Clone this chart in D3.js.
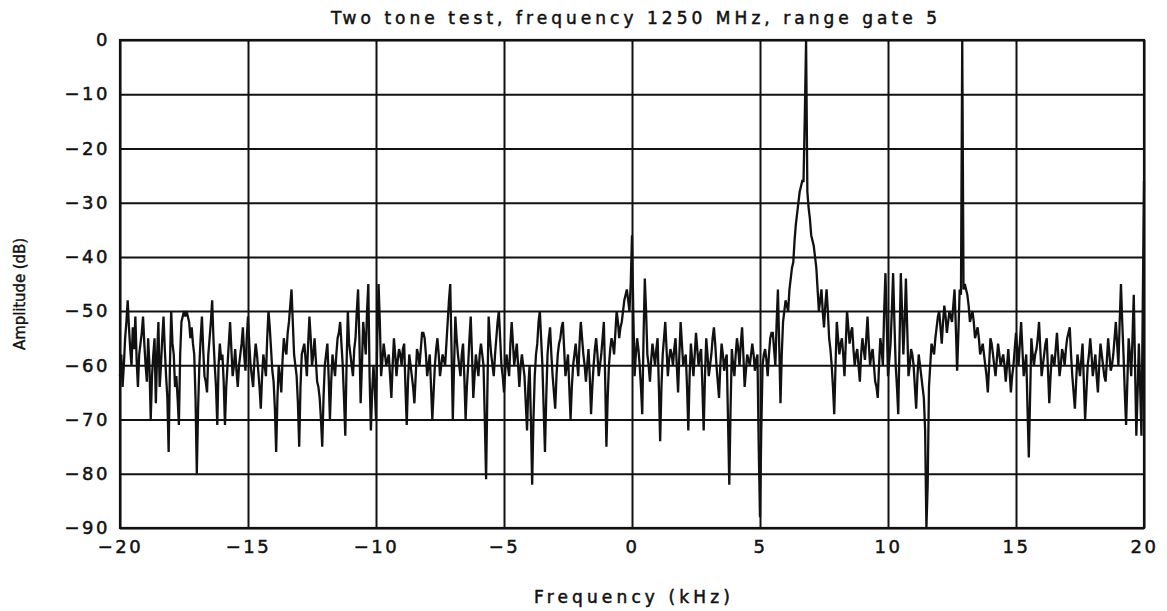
<!DOCTYPE html>
<html>
<head>
<meta charset="utf-8">
<script src="https://cdn.jsdelivr.net/npm/d3@7"></script>
<style>
  html, body { margin: 0; padding: 0; background: #fff; }
  svg { display: block; }
  text { font-family: "DejaVu Sans", sans-serif; fill: #111; }
</style>
</head>
<body>
<svg id="chart" width="1167" height="611"></svg>
<script>
// ---- data ----
const title = "Two tone test, frequency 1250 MHz, range gate 5";
const xLabel = "Frequency (kHz)";
const yLabel = "Amplitude (dB)";
const xTicks = [-20, -15, -10, -5, 0, 5, 10, 15, 20];
const yTicks = [0, -10, -20, -30, -40, -50, -60, -70, -80, -90];
const freqStart = -20;
const freqStep = 0.1;
// amplitude (dB) at -20.0, -19.9, ... , +20.0 kHz
const amplitude = [
  -62,-64,-55,-48,-57,-53,-51,-64,-56,-51,   // -20.0 .. -19.1
  -60,-55,-70,-58,-67,-52,-60,-51,-62,-76,   // -19.0
  -50,-58,-62,-71,-52,-50,-50,-52,-53,-58,   // -18.0
  -80,-60,-51,-62,-65,-55,-48,-60,-71,-56,   // -17.0
  -58,-71,-60,-52,-62,-57,-64,-58,-53,-61,   // -16.0
  -51,-60,-64,-56,-61,-68,-58,-62,-50,-57,   // -15.0
  -63,-76,-60,-65,-55,-58,-52,-46,-58,-62,   // -14.0
  -75,-58,-56,-62,-51,-60,-55,-63,-66,-75,   // -13.0
  -60,-56,-70,-58,-62,-55,-52,-60,-73,-50,   // -12.0
  -58,-62,-55,-46,-67,-52,-58,-45,-72,-60,   // -11.0
  -70,-45,-62,-56,-60,-58,-66,-55,-62,-57,   // -10.0
  -60,-56,-71,-58,-62,-67,-57,-60,-54,-55,   // -9.0
  -62,-58,-70,-60,-55,-62,-58,-60,-52,-45,   // -8.0
  -70,-51,-58,-62,-56,-70,-60,-51,-66,-58,   // -7.0
  -62,-56,-60,-81,-51,-58,-62,-55,-50,-60,   // -6.0
  -65,-58,-62,-52,-60,-56,-64,-58,-62,-72,   // -5.0
  -60,-82,-62,-56,-50,-60,-76,-58,-53,-62,   // -4.0
  -68,-58,-55,-52,-62,-58,-70,-60,-56,-62,   // -3.0
  -52,-58,-63,-57,-69,-60,-55,-62,-58,-52,   // -2.0
  -75,-60,-55,-58,-50,-55,-52,-48,-46,-50,   // -1.0
  -36,-62,-55,-60,-69,-44,-58,-63,-56,-60,   //  0.0
  -55,-74,-58,-52,-62,-57,-60,-55,-65,-52,   //  1.0
  -60,-58,-72,-56,-62,-54,-60,-57,-72,-55,   //  2.0
  -62,-58,-53,-60,-66,-56,-61,-58,-82,-57,   //  3.0
  -62,-55,-60,-53,-64,-58,-60,-56,-61,-58,   //  4.0
  -88,-60,-57,-62,-55,-54,-60,-46,-67,-52,   //  5.0
  -48,-50,-44,-41,-34,-30,-27,-26,  0,-31,   //  6.0
  -36,-38,-42,-50,-46,-53,-46,-55,-60,-69,   //  7.0
  -52,-58,-55,-62,-50,-56,-53,-60,-57,-63,   //  8.0
  -55,-59,-51,-60,-57,-63,-66,-55,-60,-43,   //  9.0
  -62,-56,-43,-60,-69,-43,-58,-44,-62,-57,   // 10.0
  -60,-68,-58,-62,-66,-90,-64,-56,-58,-53,   // 11.0
  -50,-56,-49,-54,-50,-52,-46,-61,-46,  0,   // 12.0
  -45,-47,-52,-50,-55,-53,-58,-56,-60,-65,   // 13.0
  -55,-58,-62,-56,-60,-58,-63,-57,-65,-60,   // 14.0
  -54,-60,-52,-62,-58,-77,-55,-60,-57,-52,   // 15.0
  -62,-58,-55,-67,-58,-60,-54,-62,-57,-60,   // 16.0
  -55,-53,-62,-68,-58,-62,-56,-70,-60,-55,   // 17.0
  -62,-58,-65,-56,-60,-63,-55,-61,-58,-52,   // 18.0
  -60,-45,-58,-71,-55,-62,-47,-73,-56,-73,   // 19.0
  -26                                        // 20.0
];
// amplitude (dB) at the in-between bins -19.95, -19.85, ... , +19.95 kHz
const amplitudeMid = [
  -58,-60,-52,-53,-60,-57,-59,-58,-54,-56,   // -19.95 ..
  -63,-60,-62,-55,-58,-64,-55,-57,-66,-60,   // -18.95
  -56,-64,-66,-58,-51,-51,-51,-55,-56,-66,   // -17.95
  -68,-55,-57,-63,-58,-52,-55,-64,-60,-59,   // -16.95
  -63,-64,-56,-57,-60,-61,-60,-56,-58,-55,   // -15.95
  -56,-62,-59,-58,-64,-62,-60,-55,-53,-61,   // -14.95
  -68,-66,-62,-59,-57,-54,-49,-52,-60,-67,   // -13.95
  -64,-57,-59,-56,-55,-58,-59,-64,-70,-66,   // -12.95
  -58,-62,-63,-60,-58,-54,-56,-66,-60,-56,   // -11.95
  -60,-57,-50,-55,-60,-55,-50,-62,-65,-64,   // -10.95
  -55,-52,-59,-58,-59,-62,-60,-58,-59,-58,   // -9.95
  -57,-64,-63,-60,-64,-62,-58,-57,-54,-58,   // -8.95
  -60,-64,-65,-57,-58,-60,-59,-56,-48,-57,   // -7.95
  -60,-55,-60,-58,-62,-64,-55,-58,-62,-60,   // -6.95
  -58,-58,-70,-65,-55,-60,-58,-52,-55,-62,   // -5.95
  -61,-60,-56,-56,-58,-60,-60,-60,-67,-64,   // -4.95
  -70,-70,-58,-52,-55,-68,-66,-55,-58,-65,   // -3.95
  -62,-56,-53,-57,-60,-64,-64,-58,-59,-56,   // -2.95
  -55,-60,-60,-62,-64,-57,-58,-60,-55,-62,   // -1.95
  -66,-57,-56,-54,-52,-53,-50,-47,-48,-45,   // -0.95
  -50,-58,-57,-64,-55,-50,-60,-59,-58,-57,   //  0.05
  -64,-64,-55,-57,-59,-58,-57,-60,-58,-56,   //  1.05
  -59,-64,-62,-59,-58,-57,-58,-64,-62,-58,   //  2.05
  -60,-55,-56,-63,-60,-58,-59,-70,-68,-60,   //  3.05
  -58,-57,-56,-58,-61,-59,-58,-58,-59,-75,   //  4.05
  -72,-58,-59,-58,-54,-57,-52,-56,-58,-50,   //  5.05
  -49,-46,-42,-37,-32,-28,-26,-14,-28,-33,   //  6.05
  -37,-40,-46,-48,-50,-49,-50,-57,-64,-60,   //  7.05
  -55,-56,-58,-56,-53,-54,-57,-58,-60,-58,   //  8.05
  -57,-55,-56,-58,-60,-64,-60,-57,-50,-52,   //  9.05
  -59,-50,-52,-64,-56,-50,-52,-53,-60,-58,   // 10.05
  -64,-62,-60,-64,-72,-82,-60,-57,-55,-51,   // 11.05
  -53,-52,-51,-52,-51,-49,-53,-54,-47,-46,   // 12.05
  -46,-49,-51,-52,-54,-55,-57,-58,-62,-60,   // 13.05
  -56,-60,-59,-58,-59,-60,-60,-61,-62,-57,   // 14.05
  -57,-56,-57,-60,-68,-66,-58,-58,-55,-57,   // 15.05
  -60,-56,-61,-62,-59,-57,-58,-60,-58,-57,   // 16.05
  -54,-58,-65,-63,-60,-59,-63,-65,-58,-58,   // 17.05
  -60,-62,-60,-58,-62,-59,-58,-60,-55,-56,   // 18.05
  -52,-52,-65,-63,-58,-55,-60,-65,-64,-50    // 19.05
];

// ---- layout ----
const margin = { left: 120, right: 23, top: 40, bottom: 83 };
const W = 1167, H = 611;
const iw = W - margin.left - margin.right;
const ih = H - margin.top - margin.bottom;

const svg = d3.select("#chart");
const g = svg.append("g").attr("transform", `translate(${margin.left},${margin.top})`);

const x = d3.scaleLinear().domain([-20, 20]).range([0, iw]);
const y = d3.scaleLinear().domain([-90, 0]).range([ih, 0]);

// grid
const xGrid = d3.axisBottom(x).tickValues(xTicks).tickSize(-ih).tickFormat("");
const yGrid = d3.axisLeft(y).tickValues(yTicks).tickSize(-iw).tickFormat("");
g.append("g").attr("transform", `translate(0,${ih})`).call(xGrid)
  .call(s => s.select(".domain").remove())
  .call(s => s.selectAll("line").attr("stroke", "#111").attr("stroke-width", 2));
g.append("g").call(yGrid)
  .call(s => s.select(".domain").remove())
  .call(s => s.selectAll("line").attr("stroke", "#111").attr("stroke-width", 2));

// border
g.append("rect").attr("x", 0).attr("y", 0).attr("width", iw).attr("height", ih)
  .attr("fill", "none").attr("stroke", "#111").attr("stroke-width", 2.2);

// axes labels
const fmt = d => (d < 0 ? "\u2212" + Math.abs(d) : String(d));
const styleText = s => s.selectAll("text").attr("font-size", 18).attr("letter-spacing", 2.5)
    .attr("font-family", "DejaVu Sans").attr("fill", "#111")
    .attr("stroke", "#111").attr("stroke-width", 0.5);
const xAxis = d3.axisBottom(x).tickValues(xTicks).tickSize(0).tickPadding(12).tickFormat(fmt);
const yAxis = d3.axisLeft(y).tickValues(yTicks).tickSize(0).tickPadding(10).tickFormat(fmt);
g.append("g").attr("transform", `translate(0,${ih})`).call(xAxis)
  .call(s => s.select(".domain").remove())
  .call(styleText);
g.append("g").call(yAxis)
  .call(s => s.select(".domain").remove())
  .call(styleText);

// data line: interleave main bins and in-between bins
const pts = [];
amplitude.forEach((a, i) => {
  const f = freqStart + i * freqStep;
  pts.push([f, a]);
  if (i < amplitudeMid.length) pts.push([f + freqStep / 2, amplitudeMid[i]]);
});
const line = d3.line().x(d => x(d[0])).y(d => y(d[1]));
g.append("path").datum(pts).attr("d", line)
  .attr("fill", "none").attr("stroke", "#111").attr("stroke-width", 2.3)
  .attr("stroke-linejoin", "miter").attr("stroke-miterlimit", 3);

// title & labels
svg.append("text").attr("x", 634).attr("y", 24).attr("text-anchor", "middle")
  .attr("font-size", 17).attr("textLength", 606).attr("lengthAdjust", "spacing")
  .attr("stroke", "#111").attr("stroke-width", 0.5).text(title);
svg.append("text").attr("x", 632).attr("y", 603).attr("text-anchor", "middle")
  .attr("font-size", 17).attr("textLength", 196).attr("lengthAdjust", "spacing")
  .attr("stroke", "#111").attr("stroke-width", 0.5).text(xLabel);
svg.append("text").attr("transform", "translate(25,294) rotate(-90)").attr("text-anchor", "middle")
  .attr("font-size", 15).attr("textLength", 112).attr("lengthAdjust", "spacing")
  .attr("stroke", "#111").attr("stroke-width", 0.4).text(yLabel);
</script>
</body>
</html>
